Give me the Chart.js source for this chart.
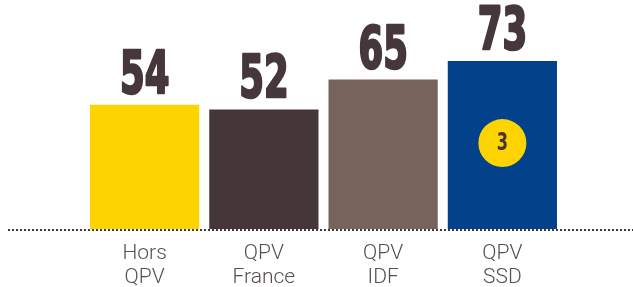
<!DOCTYPE html>
<html>
<head>
<meta charset="utf-8">
<script src="https://cdn.jsdelivr.net/npm/chart.js@4/dist/chart.umd.min.js"></script>
<style>
  html, body { margin: 0; padding: 0; background: #fff; }
  #wrap { width: 633px; height: 287px; }
</style>
</head>
<body>
<div id="wrap"><canvas id="myChart" width="633" height="287"></canvas></div>
<script>
const ctx = document.getElementById("myChart").getContext("2d");

// data
const labels = [["Hors", "QPV"], ["QPV", "France"], ["QPV", "IDF"], ["QPV", "SSD"]];
const values = [54, 52, 65, 73];
const barColors = ["#FDD300", "#453738", "#76645C", "#03428A"];
const badgeIndex = 3;
const badgeText = "3";

const textColor = "#45373A";

// value labels, category labels, dotted baseline, badge
const decorations = {
  id: "decorations",
  afterDatasetsDraw(chart) {
    const c = chart.ctx;
    const xs = chart.scales.x;
    const ys = chart.scales.y;
    const base = ys.getPixelForValue(0);
    const meta = chart.getDatasetMeta(0);

    c.save();
    // dotted line
    c.strokeStyle = "#3e3638";
    c.lineWidth = 2;
    c.setLineDash([2, 2]);
    c.beginPath();
    c.moveTo(8, base + 1);
    c.lineTo(633, base + 1);
    c.stroke();
    c.setLineDash([]);

    // values above bars
    c.fillStyle = textColor;
    c.strokeStyle = textColor;
    c.lineWidth = 2.5;
    c.lineJoin = "round";
    c.textAlign = "center";
    c.textBaseline = "alphabetic";
    c.font = "bold 58px 'DejaVu Sans Condensed', sans-serif";
    meta.data.forEach((bar, i) => {
      c.save();
      c.translate(bar.x, bar.y - 12);
      c.scale(0.68, 1);
      c.fillText(String(values[i]), 0, 0);
      c.strokeText(String(values[i]), 0, 0);
      c.restore();
    });

    // category labels
    c.fillStyle = "#564e50";
    c.font = "300 21px Roboto, 'Liberation Sans', sans-serif";
    labels.forEach((lines, i) => {
      const x = xs.getPixelForValue(i);
      lines.forEach((t, j) => {
        c.fillText(t, x, base + 30 + j * 24);
      });
    });

    // badge
    const b = meta.data[badgeIndex];
    const cy = ys.getPixelForValue(values[badgeIndex] / 2) - 2;
    c.fillStyle = "#FDD300";
    c.beginPath();
    c.arc(b.x, cy, 24, 0, Math.PI * 2);
    c.fill();
    c.fillStyle = textColor;
    c.textBaseline = "middle";
    c.font = "bold 24px 'DejaVu Sans Condensed', sans-serif";
    c.save();
    c.translate(b.x, cy + 1);
    c.scale(0.75, 1);
    c.fillText(badgeText, 0, 0);
    c.restore();
    c.restore();
  },
};

const myChart = new Chart(ctx, {
  type: "bar",
  data: {
    labels: labels,
    datasets: [
      {
        data: values,
        backgroundColor: barColors,
        borderWidth: 0,
        barPercentage: 0.916,
        categoryPercentage: 1,
      },
    ],
  },
  options: {
    responsive: false,
    animation: false,
    layout: { padding: { left: 85, right: 71, top: 45, bottom: 58 } },
    plugins: { legend: { display: false }, tooltip: { enabled: false } },
    scales: {
      x: { display: false },
      y: { display: false, min: 0, max: 80 },
    },
  },
  plugins: [decorations],
});
</script>
</body>
</html>
